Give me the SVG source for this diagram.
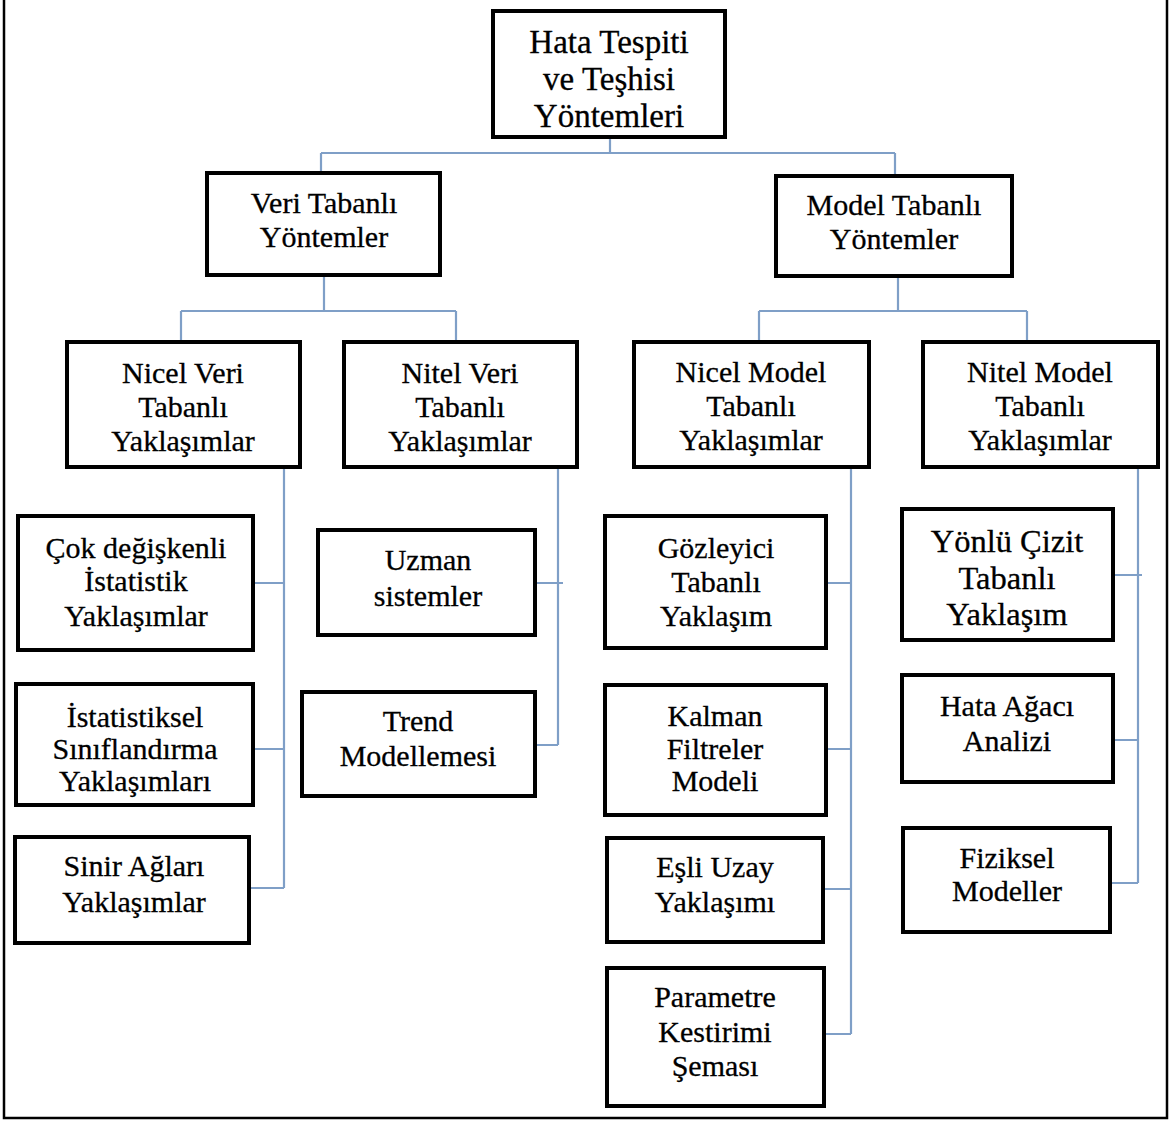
<svg xmlns="http://www.w3.org/2000/svg" width="1172" height="1122" viewBox="0 0 1172 1122">
<style>
.box{fill:#fff;stroke:#000;stroke-width:4}
.c{fill:none;stroke:#7f9fc7;stroke-width:2.2}
text{font-family:"Liberation Serif","DejaVu Serif Condensed","DejaVu Serif",serif;font-stretch:condensed;font-size:30px;fill:#000;stroke:#000;stroke-width:0.3;text-anchor:middle}
.big{font-size:33px}
.yb{font-size:32.5px}
</style>
<rect width="1172" height="1122" fill="#fff"/>
<path d="M4,0 V1118 H1167 V0" fill="none" stroke="#000" stroke-width="2.5"/>
<g id="connectors">
<path class="c" d="M610,137 V153 M321,153 H895 M321,153 V173 M895,153 V176"/>
<path class="c" d="M324,275 V311 M181,311 H456 M181,311 V342 M456,311 V342"/>
<path class="c" d="M898,276 V311 M759,311 H1027 M759,311 V342 M1027,311 V342"/>
<path class="c" d="M284,467 V888 M253,583 H284 M253,749 H284 M249,888 H284"/>
<path class="c" d="M558,467 V745 M535,583 H563 M535,745 H558"/>
<path class="c" d="M851,467 V1034 M826,583 H851 M826,749 H851 M823,889 H851 M824,1034 H851"/>
<path class="c" d="M1138,467 V883 M1113,575 H1142 M1113,740 H1138 M1110,883 H1138"/>
</g>
<g id="root"><rect class="box" x="493" y="11" width="232" height="126"/>
<text class="big" x="609" y="53">Hata Tespiti</text><text class="big" x="609" y="90">ve Teşhisi</text><text class="big" x="609" y="127">Yöntemleri</text></g>
<g id="veri"><rect class="box" x="207" y="173" width="233" height="102"/>
<text x="324" y="213">Veri Tabanlı</text><text x="324" y="247">Yöntemler</text></g>
<g id="model"><rect class="box" x="776" y="176" width="236" height="100"/>
<text x="894" y="215">Model Tabanlı</text><text x="894" y="249">Yöntemler</text></g>
<g id="nicelveri"><rect class="box" x="67" y="342" width="233" height="125"/>
<text x="183" y="383">Nicel Veri</text><text x="183" y="417">Tabanlı</text><text x="183" y="451">Yaklaşımlar</text></g>
<g id="nitelveri"><rect class="box" x="344" y="342" width="233" height="125"/>
<text x="460" y="383">Nitel Veri</text><text x="460" y="417">Tabanlı</text><text x="460" y="451">Yaklaşımlar</text></g>
<g id="nicelmodel"><rect class="box" x="634" y="342" width="235" height="125"/>
<text x="751" y="382">Nicel Model</text><text x="751" y="416">Tabanlı</text><text x="751" y="450">Yaklaşımlar</text></g>
<g id="nitelmodel"><rect class="box" x="923" y="342" width="235" height="125"/>
<text x="1040" y="382">Nitel Model</text><text x="1040" y="416">Tabanlı</text><text x="1040" y="450">Yaklaşımlar</text></g>
<g id="cok"><rect class="box" x="18" y="516" width="235" height="134"/>
<text x="136" y="558">Çok değişkenli</text><text x="136" y="591">İstatistik</text><text x="136" y="626">Yaklaşımlar</text></g>
<g id="istat"><rect class="box" x="16" y="684" width="237" height="121"/>
<text x="135" y="727">İstatistiksel</text><text x="135" y="759">Sınıflandırma</text><text x="135" y="791">Yaklaşımları</text></g>
<g id="sinir"><rect class="box" x="15" y="837" width="234" height="106"/>
<text x="134" y="876">Sinir Ağları</text><text x="134" y="912">Yaklaşımlar</text></g>
<g id="uzman"><rect class="box" x="318" y="530" width="217" height="105"/>
<text x="428" y="570">Uzman</text><text x="428" y="606">sistemler</text></g>
<g id="trend"><rect class="box" x="302" y="692" width="233" height="104"/>
<text x="418" y="731">Trend</text><text x="418" y="766">Modellemesi</text></g>
<g id="gozleyici"><rect class="box" x="605" y="516" width="221" height="132"/>
<text x="716" y="558">Gözleyici</text><text x="716" y="592">Tabanlı</text><text x="716" y="626">Yaklaşım</text></g>
<g id="kalman"><rect class="box" x="605" y="685" width="221" height="130"/>
<text x="715" y="726">Kalman</text><text x="715" y="759">Filtreler</text><text x="715" y="791">Modeli</text></g>
<g id="esli"><rect class="box" x="607" y="838" width="216" height="104"/>
<text x="715" y="877">Eşli Uzay</text><text x="715" y="912">Yaklaşımı</text></g>
<g id="parametre"><rect class="box" x="607" y="968" width="217" height="138"/>
<text x="715" y="1007">Parametre</text><text x="715" y="1042">Kestirimi</text><text x="715" y="1076">Şeması</text></g>
<g id="yonlu"><rect class="box" x="902" y="509" width="211" height="131"/>
<text class="yb" x="1007" y="552">Yönlü Çizit</text><text class="yb" x="1007" y="589">Tabanlı</text><text class="yb" x="1007" y="625">Yaklaşım</text></g>
<g id="hata"><rect class="box" x="902" y="675" width="211" height="107"/>
<text x="1007" y="716">Hata Ağacı</text><text x="1007" y="751">Analizi</text></g>
<g id="fiziksel"><rect class="box" x="903" y="828" width="207" height="104"/>
<text x="1007" y="868">Fiziksel</text><text x="1007" y="901">Modeller</text></g>
</svg>
